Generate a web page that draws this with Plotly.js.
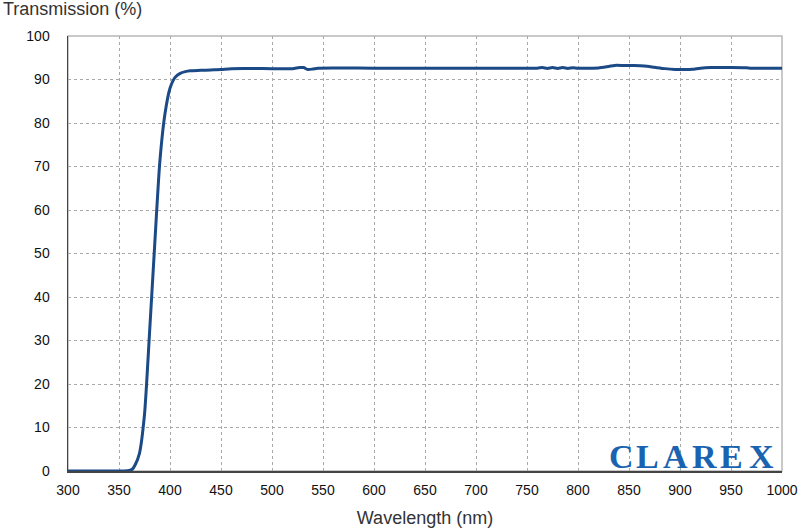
<!DOCTYPE html>
<html>
<head>
<meta charset="utf-8">
<script src="https://cdn.plot.ly/plotly-3.0.1.min.js"></script>
<style>html,body{margin:0;padding:0;background:#fff;}#chart{width:798px;height:532px;}</style>
</head>
<body>
<div id="chart"></div>
<script>
const wavelength = [300, 330, 355, 360, 363, 366, 370, 375, 380, 385, 390, 395, 400, 405, 410, 415, 420, 430, 440, 450, 460, 500, 520, 527, 531, 535, 540, 545, 600, 700, 760, 765, 770, 775, 780, 785, 790, 795, 800, 820, 830, 838, 845, 855, 865, 875, 885, 895, 905, 912, 920, 930, 950, 965, 970, 1000];
const transmission = [0, 0, 0, 0.1, 0.4, 1.5, 4, 13, 32, 52, 71, 82, 88, 90.5, 91.4, 91.8, 92.0, 92.1, 92.2, 92.3, 92.5, 92.5, 92.5, 92.75, 92.75, 92.3, 92.4, 92.6, 92.6, 92.6, 92.6, 92.75, 92.55, 92.75, 92.55, 92.75, 92.55, 92.7, 92.6, 92.65, 93.0, 93.3, 93.2, 93.2, 93.1, 92.8, 92.5, 92.3, 92.3, 92.35, 92.6, 92.75, 92.75, 92.7, 92.6, 92.6];
const xTicks = [300, 350, 400, 450, 500, 550, 600, 650, 700, 750, 800, 850, 900, 950, 1000];
const yTicks = [0, 10, 20, 30, 40, 50, 60, 70, 80, 90, 100];
const logoLetters = ["C", "L", "A", "R", "E", "X"];
const logoCenters = [621, 647, 675, 704, 731, 761];

const plotL = 68, plotR = 782;
const annotations = [{
  text: "Transmission (%)", xref: "paper", yref: "paper",
  x: -67/714, y: 1 + 27/435, xanchor: "left", yanchor: "middle", showarrow: false,
  font: {family: "Liberation Sans, Arial, sans-serif", size: 18, color: "#333"}
}];
logoLetters.forEach((ch, i) => {
  annotations.push({
    text: "<b>" + ch + "</b>", xref: "paper", yref: "paper",
    x: (logoCenters[i] - plotL) / (plotR - plotL), y: (471 - 456) / 435,
    xanchor: "center", yanchor: "middle", showarrow: false,
    font: {family: "Liberation Serif, Times New Roman, serif", size: 34, color: "#1a63b0"}
  });
});

const trace = {
  x: wavelength, y: transmission, type: "scatter", mode: "lines",
  line: {color: "#1b4a86", width: 3, shape: "spline", smoothing: 0.6},
  hoverinfo: "skip"
};

const layout = {
  width: 798, height: 532,
  margin: {l: 68, r: 16, t: 36, b: 61},
  paper_bgcolor: "#fff", plot_bgcolor: "#fff",
  showlegend: false,
  font: {family: "Liberation Sans, Arial, sans-serif", size: 14, color: "#111"},
  xaxis: {
    range: [300, 1000], tickvals: xTicks, ticktext: xTicks.map(String),
    showgrid: true, gridcolor: "#a8a8a8", griddash: "3px,3px", gridwidth: 1,
    showline: true, linecolor: "#444", linewidth: 1.5, zeroline: false,
    ticks: "", ticklabelstandoff: 6,
    title: {text: "Wavelength (nm)", font: {size: 18, color: "#333"}, standoff: 14}
  },
  yaxis: {
    range: [0, 100], tickvals: yTicks, ticktext: yTicks.map(String),
    showgrid: true, gridcolor: "#a8a8a8", griddash: "3px,3px", gridwidth: 1,
    showline: true, linecolor: "#444", linewidth: 1.5, zeroline: false,
    ticks: "", ticklabelstandoff: 14
  },
  shapes: [{
    type: "rect", xref: "paper", yref: "paper", x0: 0, x1: 1, y0: 0, y1: 1,
    line: {color: "#b8b8b8", width: 1.5}, layer: "below"
  }],
  annotations: annotations
};

Plotly.newPlot("chart", [trace], layout, {staticPlot: true, displayModeBar: false});
</script>
</body>
</html>
